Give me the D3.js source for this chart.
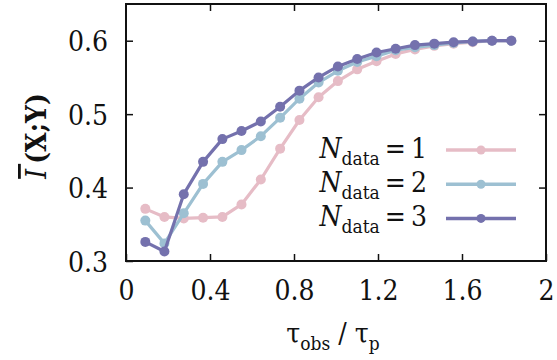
<!DOCTYPE html>
<html>
<head>
<meta charset="utf-8">
<script src="https://cdn.jsdelivr.net/npm/d3@7"></script>
<style>
  body { margin: 0; background: #fff; }
  svg text { font-stretch: condensed; }
</style>
</head>
<body>
<svg id="chart" width="557" height="360"></svg>
<script>
// data
const tau = [0.092, 0.183, 0.275, 0.367, 0.459, 0.550, 0.642, 0.734, 0.826, 0.917,
             1.009, 1.101, 1.193, 1.284, 1.376, 1.468, 1.560, 1.651, 1.743, 1.835];
const n1 = [0.371, 0.360, 0.358, 0.359, 0.360, 0.377, 0.411, 0.453, 0.492, 0.523,
            0.545, 0.561, 0.572, 0.582, 0.588, 0.593, 0.596, 0.598, 0.600, 0.600];
const n2 = [0.355, 0.324, 0.365, 0.405, 0.435, 0.451, 0.470, 0.495, 0.521, 0.543,
            0.559, 0.571, 0.579, 0.587, 0.591, 0.594, 0.597, 0.599, 0.600, 0.600];
const n3 = [0.326, 0.313, 0.391, 0.435, 0.466, 0.477, 0.490, 0.510, 0.532, 0.550,
            0.565, 0.575, 0.584, 0.589, 0.594, 0.596, 0.598, 0.599, 0.600, 0.600];
const seriesLabels = ["1", "2", "3"];
const xTicks = [0, 0.4, 0.8, 1.2, 1.6, 2];
const xTickLabels = ["0", "0.4", "0.8", "1.2", "1.6", "2"];
const yTicks = [0.3, 0.4, 0.5, 0.6];

const colors = ["#e6bcc6", "#9dc0d2", "#7471ad"];
const series = [n1, n2, n3].map((vals, i) => ({
    label: seriesLabels[i],
    color: colors[i],
    points: tau.map((t, j) => ({ x: t, y: vals[j] }))
}));

// Liberation Serif is not picked up here, DejaVu Serif Condensed is the closest
const serif = "'DejaVu Serif Condensed', 'DejaVu Serif', serif";
const fs = 28, fsSub = 19;

// frame
const frame = { left: 126, right: 546, top: 4, bottom: 261 };

const svg = d3.select("#chart")
    .attr("font-family", serif);

const x = d3.scaleLinear().domain([0, 2]).range([frame.left, frame.right]);
const y = d3.scaleLinear().domain([0.3, 0.65]).range([frame.bottom, frame.top]);

// ticks (gnuplot style: inward, mirrored)
const tickLen = 7;
const axes = svg.append("g").attr("class", "axes");

function styleAxis(g) {
    g.attr("font-family", serif);
    g.select(".domain").remove();
    g.selectAll("line").attr("stroke", "#111").attr("stroke-width", 1.5);
    g.selectAll("text").attr("font-size", fs).attr("fill", "#111");
}

axes.append("g")
    .attr("transform", `translate(0,${frame.bottom})`)
    .call(d3.axisBottom(x).tickValues(xTicks).tickSize(-tickLen).tickPadding(19)
        .tickFormat((d, i) => xTickLabels[i]))
    .call(styleAxis)
    .call(g => g.selectAll("text").attr("dy", "0.71em"));

axes.append("g")
    .attr("transform", `translate(0,${frame.top})`)
    .call(d3.axisTop(x).tickValues(xTicks.slice(1, -1)).tickSize(-tickLen).tickFormat(""))
    .call(styleAxis);

axes.append("g")
    .attr("transform", `translate(${frame.left},0)`)
    .call(d3.axisLeft(y).tickValues(yTicks).tickSize(-tickLen).tickPadding(18)
        .tickFormat(d3.format(".1f")))
    .call(styleAxis)
    .call(g => g.selectAll("text").attr("dy", "0.36em"));

axes.append("g")
    .attr("transform", `translate(${frame.right},0)`)
    .call(d3.axisRight(y).tickValues(yTicks.slice(1)).tickSize(-tickLen).tickFormat(""))
    .call(styleAxis);

// series
const line = d3.line().x(d => x(d.x)).y(d => y(d.y));
const plot = svg.append("g").attr("class", "series");

series.forEach(s => {
    const g = plot.append("g");
    g.append("path")
        .datum(s.points)
        .attr("fill", "none")
        .attr("stroke", s.color)
        .attr("stroke-width", 3.2)
        .attr("stroke-linejoin", "round")
        .attr("d", line);
    g.selectAll("circle")
        .data(s.points)
        .enter()
        .append("circle")
        .attr("cx", d => x(d.x))
        .attr("cy", d => y(d.y))
        .attr("r", 5)
        .attr("fill", s.color);
});

// border
svg.append("rect")
    .attr("x", frame.left).attr("y", frame.top)
    .attr("width", frame.right - frame.left).attr("height", frame.bottom - frame.top)
    .attr("fill", "none").attr("stroke", "#111").attr("stroke-width", 2);

// legend
const legend = svg.append("g").attr("class", "legend")
    .selectAll(".entry")
    .data(series)
    .enter()
    .append("g")
    .attr("class", "entry")
    .attr("transform", (d, i) => `translate(0, ${150 + 34.2 * i})`);

const legText = legend.append("text")
    .attr("x", 427)
    .attr("y", 7.5)
    .attr("text-anchor", "end")
    .attr("fill", "#111")
    .attr("font-size", fs);
legText.append("tspan").attr("font-style", "italic").text("N");
legText.append("tspan").attr("font-size", fsSub).attr("dy", 7).text("data");
legText.append("tspan").attr("dy", -7).text(d => "\u2009=\u2009" + d.label);

legend.append("line")
    .attr("x1", 446).attr("x2", 516)
    .attr("stroke", d => d.color)
    .attr("stroke-width", 3.5);
legend.append("circle")
    .attr("cx", 481)
    .attr("r", 4.5)
    .attr("fill", d => d.color);

// axis titles
const xt = svg.append("text")
    .attr("x", 333).attr("y", 343)
    .attr("text-anchor", "middle")
    .attr("fill", "#111")
    .attr("font-size", fs);
xt.append("tspan").text("\u03c4");
xt.append("tspan").attr("font-size", fsSub).attr("dy", 7).text("obs");
xt.append("tspan").attr("dy", -7).text(" / \u03c4");
xt.append("tspan").attr("font-size", fsSub).attr("dy", 7).text("p");

const yt = svg.append("text")
    .attr("transform", "translate(46,136) rotate(-90)")
    .attr("text-anchor", "middle")
    .attr("fill", "#111")
    .attr("font-size", fs);
yt.append("tspan").attr("font-style", "italic").attr("text-decoration", "overline").text("I\u2009");
yt.append("tspan").attr("font-weight", "bold").text("(X;Y)");
</script>
</body>
</html>
